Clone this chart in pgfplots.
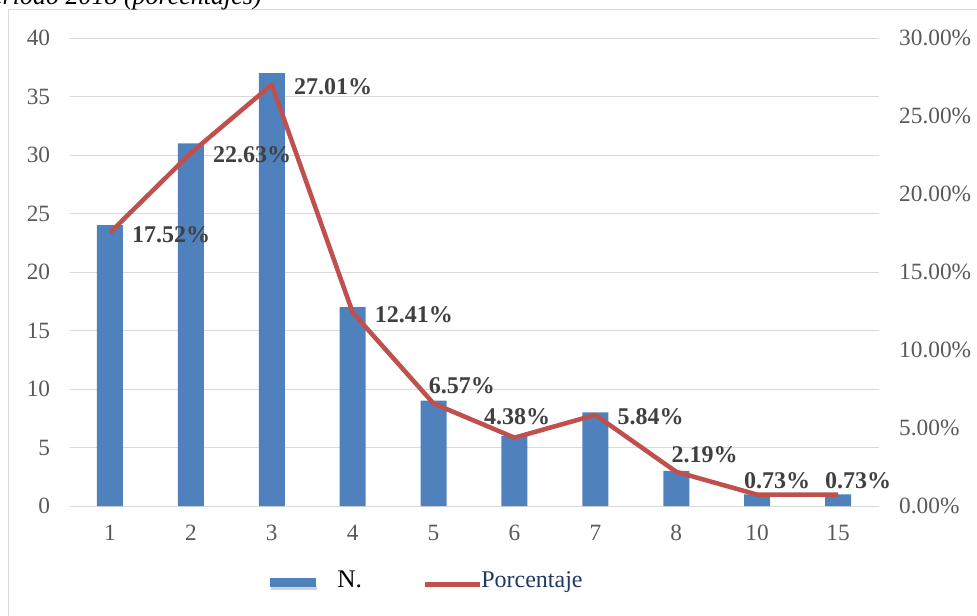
\documentclass[border=0pt]{standalone}
\usepackage{pgfplots}
\pgfplotsset{compat=1.18}
\usepackage{fontspec}
\setmainfont{Liberation Serif}

\definecolor{barblue}{HTML}{4F81BD}
\definecolor{linered}{HTML}{C0504D}
\definecolor{ticktxt}{HTML}{595959}
\definecolor{gridc}{HTML}{D9D9D9}
\definecolor{lbltxt}{HTML}{404040}
\definecolor{legtxt}{HTML}{1F3864}

\pgfplotsset{
  base/.style={
    scale only axis, width=606.75pt, height=351pt,
    at={(52.125pt,81.75pt)}, anchor=south west,
    xmin=-0.5, xmax=9.5,
    major tick length=0pt,
    axis line style={draw=none},
    tick label style={font=\fontsize{17.5}{20}\selectfont, text=ticktxt},
    /pgf/number format/assume math mode=true,
  },
  lbl/.style={draw=none, mark=none, nodes near coords, point meta=explicit symbolic,
    nodes near coords style={font=\fontsize{18}{20}\selectfont\bfseries, text=lbltxt, inner sep=0pt, #1}},
}

\begin{document}
\begin{tikzpicture}[x=0.75pt,y=0.75pt]
\useasboundingbox (0,0) rectangle (977,615);
\begin{scope}
\clip (0,0) rectangle (977,615);
% outer frame
\draw[gridc, line width=0.75pt] (8,-20) -- (8,605) -- (1000,605);
\node[anchor=base east, inner sep=0pt, font=\fontsize{19.5}{22}\selectfont\itshape] at (262,610) {período 2018 (porcentajes)};
\end{scope}

% bars: N.
\begin{axis}[base,
  ymin=0, ymax=40, ytick={0,5,...,40},
  ymajorgrids, grid style={gridc, line width=0.75pt},
  xtick={0,...,9}, xticklabels={1,2,3,4,5,6,7,8,10,15},
  xticklabel style={yshift=-11pt},
  yticklabel style={xshift=-11pt},
  ybar, bar width=19.5pt,
]
\addplot[fill=barblue, draw=none] coordinates {
  (0,24) (1,31) (2,37) (3,17) (4,9) (5,6) (6,8) (7,3) (8,1) (9,1)
};
\end{axis}

% line: Porcentaje
\begin{axis}[base,
  ymin=0, ymax=30, ytick={0,5,...,30},
  yticklabels={0.00\%,5.00\%,10.00\%,15.00\%,20.00\%,25.00\%,30.00\%},
  axis y line*=right, xtick=\empty,
  yticklabel style={xshift=12pt},
  clip=false,
]
\addplot[linered, line width=3.4pt, mark=none, line join=round] coordinates {
  (0,17.52) (1,22.63) (2,27.01) (3,12.41) (4,6.57) (5,4.38) (6,5.84) (7,2.19) (8,0.73) (9,0.73)
};
\addplot[lbl={anchor=west, xshift=16.5pt, yshift=-1.5pt}] coordinates {
  (0,17.52)[17.52\%] (1,22.63)[22.63\%] (2,27.01)[27.01\%] (3,12.41)[12.41\%] (6,5.84)[5.84\%]
};
\addplot[lbl={anchor=south west, xshift=-3.75pt, yshift=6.75pt}] coordinates {
  (4,6.57)[6.57\%] (7,2.19)[2.19\%]
};
\addplot[lbl={anchor=south, xshift=2pt, yshift=9.5pt}] coordinates {
  (5,4.38)[4.38\%]
};
\addplot[lbl={anchor=south, xshift=15pt, yshift=4.5pt}] coordinates {
  (8,0.73)[0.73\%] (9,0.73)[0.73\%]
};
\end{axis}

% legend
\fill[gray!35] (271,25) rectangle (317,29);
\fill[barblue] (270,28) rectangle (316,37);
\node[anchor=base west, inner sep=0pt, font=\fontsize{19}{22}\selectfont] at (337,28) {N.};
\draw[linered, line width=3.75pt] (425,31) -- (480,31);
\node[anchor=base west, inner sep=0pt, text=legtxt, font=\fontsize{18}{20}\selectfont] at (481,28) {Porcentaje};
\end{tikzpicture}
\end{document}
